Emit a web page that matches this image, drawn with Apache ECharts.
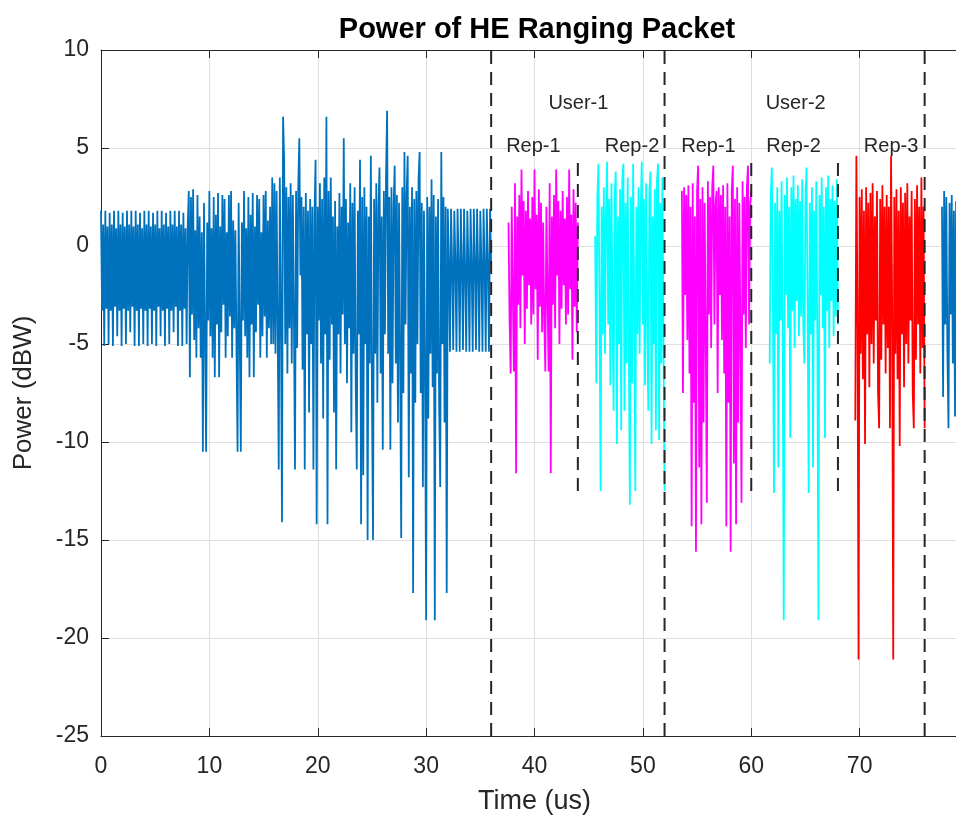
<!DOCTYPE html>
<html>
<head>
<meta charset="utf-8">
<script src="https://cdn.jsdelivr.net/npm/echarts@6/dist/echarts.min.js"></script>
<style>
html,body{margin:0;padding:0;background:#fff;}
#chart{width:956px;height:819px;}
</style>
</head>
<body>
<div id="chart"></div>
<script>
// ---------- DATA ----------
const sampleStep = 0.1; // us between samples

// Blue preamble, 0 .. 36 us
const preambleStart = 0;
const preamble = [
  // 0 - 8 us
  1.8,-3.3,1.1,-5.1, 1.8,-3.2,1.0,-5.0, 1.7,-3.3,1.1,-5.1, 1.8,-3.1,0.9,-4.6, 1.8,-3.3,1.1,-5.1,
  1.7,-3.2,1.0,-5.0, 1.8,-3.3,1.1,-4.4, 1.8,-3.1,1.0,-5.1, 1.8,-3.3,1.1,-5.1, 1.7,-3.2,0.9,-5.0,
  1.8,-3.3,1.1,-5.1, 1.8,-3.2,1.0,-5.0, 1.7,-3.3,1.1,-5.1, 1.8,-3.1,0.9,-4.6, 1.8,-3.3,1.1,-5.1,
  1.7,-3.2,1.0,-5.0, 1.8,-3.3,1.1,-4.4, 1.8,-3.1,1.0,-5.1, 1.8,-3.3,1.1,-5.1, 1.7,-3.2,0.9,-5.0,
  // 8 - 16 us
  1.0,2.8,-6.7,2.5,-3.5,2.9,-4.8,0.8,-5.7,2.6,
  -4.2,1.5,-5.7,0.7,-10.5,2.2,-4.5,-10.5,1.2,-3.8,
  2.8,-4.6,0.9,-5.7,2.5,-6.7,1.6,-4.0,2.7,-6.7,
  1.0,-4.4,2.6,-3.0,2.4,-5.7,0.7,-4.6,2.6,-3.6,
  2.8,-5.7,1.3,-4.2,0.8,-5.0,-10.5,2.2,-4.4,-10.5,
  1.2,-3.8,2.8,-4.6,0.9,-5.7,2.5,-6.7,1.6,-4.0,
  2.7,-6.7,1.0,-4.4,2.6,-3.0,2.4,-5.7,0.7,-4.6,
  2.6,-3.6,2.8,-5.7,1.3,-4.2,2.0,-5.0,3.5,-5.0,
  // 16 - 32 us
  3.2,-5.5,2.8,-4.0,-11.4,3.5,-3.0,-14.1,6.6,4.4,
  -5.0,3.0,-6.5,2.5,-4.2,3.2,-6.0,2.6,-3.5,-11.4,
  2.8,-5.2,3.0,5.5,-1.5,2.5,-6.3,2.0,-11.4,2.7,
  -4.5,1.8,-8.5,2.4,-5.0,2.0,-11.4,1.5,4.4,-14.2,
  2.0,-3.8,3.2,-6.0,2.4,-8.8,3.5,-4.5,6.6,-14.2,
  2.8,-5.8,3.5,-4.0,1.5,-8.5,2.3,-11.4,1.0,-4.5,
  2.7,-6.5,2.0,-3.5,5.5,-5.0,2.4,-7.0,1.2,-4.2,
  3.2,-9.5,2.2,-5.5,3.0,-6.8,-11.4,1.8,-4.5,4.4,
  -14.2,2.5,-11.7,3.0,-5.0,2.0,-15.0,1.5,-6.0,4.6,
  -7.5,-15.0,2.4,-5.5,3.2,-8.0,2.0,4.0,-6.5,1.5,
  -10.4,2.8,-4.5,3.5,6.9,-5.5,2.5,-10.4,3.0,-7.0,
  2.0,4.1,-6.0,2.6,-9.0,2.2,-5.5,-14.9,3.0,-7.5,
  4.8,-4.0,2.6,4.6,-11.8,2.0,-6.5,3.0,-17.7,2.4,
  -8.0,2.8,-5.0,3.4,4.8,-7.5,2.2,-12.3,1.8,-6.0,
  -19.1,2.5,-8.8,2.0,-5.5,3.4,-7.2,2.6,-19.1,1.5,
  -6.5,2.4,-8.0,-12.3,4.8,-5.0,2.5,-9.0,2.0,-17.7,
  // 32 - 36 us
  1.9,-0.9,-5.4, 1.9,-1.1,-5.3, 1.8,-0.8,-5.4, 1.9,-1.0,-5.4, 1.9,-0.9,-5.3,
  1.9,-1.2,-5.4, 1.8,-0.9,-5.4, 1.9,-1.0,-5.4, 1.9,-0.8,-5.3, 1.9,-1.1,-5.4,
  1.8,-0.9,-5.4, 1.9,-1.0,-5.4, 1.9,-0.9,-5.4, 1.9,-1.0
];

// User-1, Rep-1 (magenta)
const user1Rep1Start = 37.6;
const user1Rep1 = [
  1.2,-3.8,-6.5,2.0,-2.5,-6.4,3.2,-11.6,1.5,-3.0,
  2.6,-4.2,3.9,-1.5,2.3,-5.0,1.8,-3.2,2.8,-2.0,
  1.4,-4.0,2.5,-3.5,3.9,-2.2,1.6,-5.8,2.9,-3.1,
  2.2,-4.4,
  1.2,-3.8,-6.4,2.0,-2.5,-6.4,3.2,-11.6,1.5,-3.0,
  2.6,-4.2,3.9,-1.5,2.3,-5.0,1.8,-3.2,2.8,-2.0,
  1.4,-4.0,2.5,-3.5,3.9,-2.2,1.6,-5.8,2.9,-3.1,
  2.2,-4.4,1.2
];

// User-1, Rep-2 (cyan)
const user1Rep2Start = 45.6;
const user1Rep2 = [
  0.5,-7.0,2.5,4.2,-3.0,-12.5,2.0,-4.5,3.0,-5.5,
  1.8,4.3,-4.0,2.4,-7.1,3.2,-3.5,-8.4,2.7,3.8,
  -10.1,1.5,-5.0,2.9,-9.4,3.3,4.2,-8.4,2.2,-6.0,
  3.5,-4.8,
  -13.2,2.5,-7.0,4.2,-3.0,-12.5,2.0,-4.5,3.0,-5.5,
  1.8,4.3,-4.0,2.4,-7.1,3.2,-3.5,-8.4,2.7,3.8,
  -10.1,1.5,-5.0,2.9,-9.4,3.3,4.2,-9.9,2.2,-6.0,
  3.5,-4.8,-12.5
];

// User-2, Rep-1 (magenta)
const user2Rep1Start = 53.6;
const user2Rep1 = [
  2.8,-7.5,3.0,-2.5,2.6,-4.8,3.1,-6.5,2.0,-14.3,
  3.2,-8.0,1.5,-15.6,2.8,4.1,-11.3,2.4,-14.2,3.0,
  -9.0,2.2,-4.5,-13.1,3.3,-3.5,2.5,-5.2,3.0,4.1,
  -4.0,2.1,
  2.8,-7.5,3.0,-2.5,2.6,-4.8,3.1,-6.5,2.0,-14.3,
  3.2,-8.0,1.5,-15.6,2.8,4.1,-11.1,2.4,-14.2,3.0,
  -9.0,2.2,-4.5,-13.1,3.3,-3.5,2.5,-5.2,3.0,4.1,
  -4.0,2.1,2.8
];

// User-2, Rep-2 (cyan)
const user2Rep2Start = 61.7;
const user2Rep2 = [
  -6.0,2.5,4.0,-3.0,-12.6,2.2,-4.5,3.0,-11.3,1.8,
  -3.8,3.3,-5.0,-19.1,2.6,-2.5,3.5,-4.2,2.0,-9.8,
  3.0,-3.3,3.6,-5.2,2.4,-2.8,3.1,-4.6,2.3,-3.6,
  3.4,-4.0,
  -6.0,2.5,4.0,-3.0,-12.6,2.2,-4.5,3.0,-11.3,1.8,
  -3.8,3.3,-5.0,-19.1,2.6,-2.5,3.5,-4.2,2.0,-9.8,
  3.0,-3.3,3.6,-5.2,2.4,-2.8,3.1,-4.6,2.3,-3.6,
  3.4,-4.0
];

// User-2, Rep-3 (red)
const user2Rep3Start = 69.6;
const user2Rep3 = [
  -8.9,4.6,-3.0,-21.1,2.5,-5.5,2.9,-6.8,1.8,-10.1,
  3.0,-4.5,2.2,-7.2,2.7,-5.0,3.2,-6.0,1.5,-3.8,
  2.8,-7.5,-9.3,2.4,-5.8,3.1,-4.0,2.0,-6.5,2.6,
  -5.2,2.0,
  -9.3,4.6,-3.0,-21.1,2.5,-5.5,2.9,-6.8,1.8,-10.2,
  3.0,-4.5,2.2,-7.2,2.7,-5.0,3.2,-6.0,1.5,-3.8,
  2.8,-7.5,-9.3,2.4,-5.8,3.1,-4.0,2.0,-6.5,3.5,
  -5.2,2.0,-9.3
];

// Blue after the last user field
const tailStart = 77.6;
const tail = [2.0,-7.7,2.8,-4.0,2.5,-5.5,-9.3,2.2,-3.5,2.6,-6.0,1.8,-8.7,2.3,-4.5,2.0,-5.0,2.4,-3.0,1.5];

// Field boundaries (us)
const fullBoundaries = [36, 52, 76];
const fullBoundaryRange = [-25, 10];
const repBoundaries = [44, 60, 68];
const repBoundaryRange = [-12.5, 4.5];

// Text annotations
const annotTexts = ['User-1', 'User-2', 'Rep-1', 'Rep-2', 'Rep-1', 'Rep-2', 'Rep-3'];
const annotTimes = [44.05, 64.1, 39.9, 49.0, 56.05, 63.9, 72.9];
const annotPowers = [7.25, 7.25, 5.1, 5.1, 5.1, 5.1, 5.1];

// Axis ticks
const xTicks = [0, 10, 20, 30, 40, 50, 60, 70, 80];
const yTicks = [-25, -20, -15, -10, -5, 0, 5, 10];

// ---------- BUILD ----------
function toPoints(start, values) {
  return values.map((v, i) => [Math.round((start + i * sampleStep) * 100) / 100, v]);
}
const FONT = '"Liberation Sans", Arial, Helvetica, sans-serif';
const TXT = '#262626';
const BLUE = '#0072BD', MAG = '#FF00FF', CYAN = '#00FFFF', RED = '#FF0000';

function sigSeries(start, values, color) {
  return {
    type: 'line', xAxisIndex: 0, yAxisIndex: 0,
    data: toPoints(start, values),
    symbol: 'none', showSymbol: false,
    lineStyle: { color: color, width: 1.8 },
    itemStyle: { color: color },
    animation: false, silent: true, z: 2
  };
}
function boundarySeries(x, range) {
  return {
    type: 'line', xAxisIndex: 0, yAxisIndex: 0,
    data: [[x, range[0]], [x, range[1]]],
    symbol: 'none', showSymbol: false,
    lineStyle: { color: TXT, width: 2, type: [13, 8] },
    animation: false, silent: true, z: 5
  };
}

const series = [
  sigSeries(preambleStart, preamble, BLUE),
  sigSeries(user1Rep1Start, user1Rep1, MAG),
  sigSeries(user1Rep2Start, user1Rep2, CYAN),
  sigSeries(user2Rep1Start, user2Rep1, MAG),
  sigSeries(user2Rep2Start, user2Rep2, CYAN),
  sigSeries(user2Rep3Start, user2Rep3, RED),
  sigSeries(tailStart, tail, BLUE)
];
fullBoundaries.forEach(x => series.push(boundarySeries(x, fullBoundaryRange)));
repBoundaries.forEach(x => series.push(boundarySeries(x, repBoundaryRange)));
series.push({
  type: 'scatter', xAxisIndex: 0, yAxisIndex: 0,
  symbolSize: 0,
  itemStyle: { color: TXT, opacity: 1 },
  data: annotTexts.map((t, i) => [annotTimes[i], annotPowers[i], t]),
  label: {
    show: true, position: 'inside',
    formatter: p => p.data[2],
    fontFamily: FONT, fontSize: 20, color: TXT,
    textBorderWidth: 0, textBorderColor: 'transparent', opacity: 1
  },
  animation: false, silent: true, z: 6
});

const xMin = xTicks[0], xMax = xTicks[xTicks.length - 1];
const yMin = yTicks[0], yMax = yTicks[yTicks.length - 1];

const option = {
  backgroundColor: '#fff',
  animation: false,
  title: {
    text: 'Power of HE Ranging Packet',
    left: 532, top: 10, textAlign: 'center',
    textStyle: { fontFamily: FONT, fontSize: 29, fontWeight: 'bold', color: '#000' }
  },
  grid: { left: 101, top: 50, width: 867, height: 686, containLabel: false, outerBoundsMode: 'none' },
  xAxis: [
    {
      type: 'value', position: 'bottom', min: xMin, max: xMax, interval: 10,
      name: 'Time (us)', nameLocation: 'middle', nameGap: 52,
      nameTextStyle: { fontFamily: FONT, fontSize: 27, color: TXT },
      axisLine: { show: true, onZero: false, lineStyle: { color: TXT, width: 1 } },
      axisTick: { show: true, inside: true, length: 8, lineStyle: { color: TXT } },
      axisLabel: { fontFamily: FONT, fontSize: 23, color: TXT, margin: 19 },
      splitLine: { show: true, lineStyle: { color: '#dfdfdf', width: 1 } }
    },
    {
      type: 'value', position: 'top', min: xMin, max: xMax, interval: 10,
      axisLine: { show: true, onZero: false, lineStyle: { color: TXT, width: 1 } },
      axisTick: { show: true, inside: true, length: 8, lineStyle: { color: TXT } },
      axisLabel: { show: false },
      splitLine: { show: false }
    }
  ],
  yAxis: [
    {
      type: 'value', min: yMin, max: yMax, interval: 5,
      name: 'Power (dBW)', nameLocation: 'middle', nameGap: 64, nameRotate: 90,
      nameTextStyle: { fontFamily: FONT, fontSize: 26, color: TXT },
      axisLine: { show: true, onZero: false, lineStyle: { color: TXT, width: 1 } },
      axisTick: { show: true, inside: true, length: 8, lineStyle: { color: TXT } },
      axisLabel: { fontFamily: FONT, fontSize: 23, color: TXT, margin: 12 },
      splitLine: { show: true, lineStyle: { color: '#dfdfdf', width: 1 } }
    }
  ],
  series: series
};

const chart = echarts.init(document.getElementById('chart'), null, { renderer: 'canvas' });
chart.setOption(option);
</script>
</body>
</html>
